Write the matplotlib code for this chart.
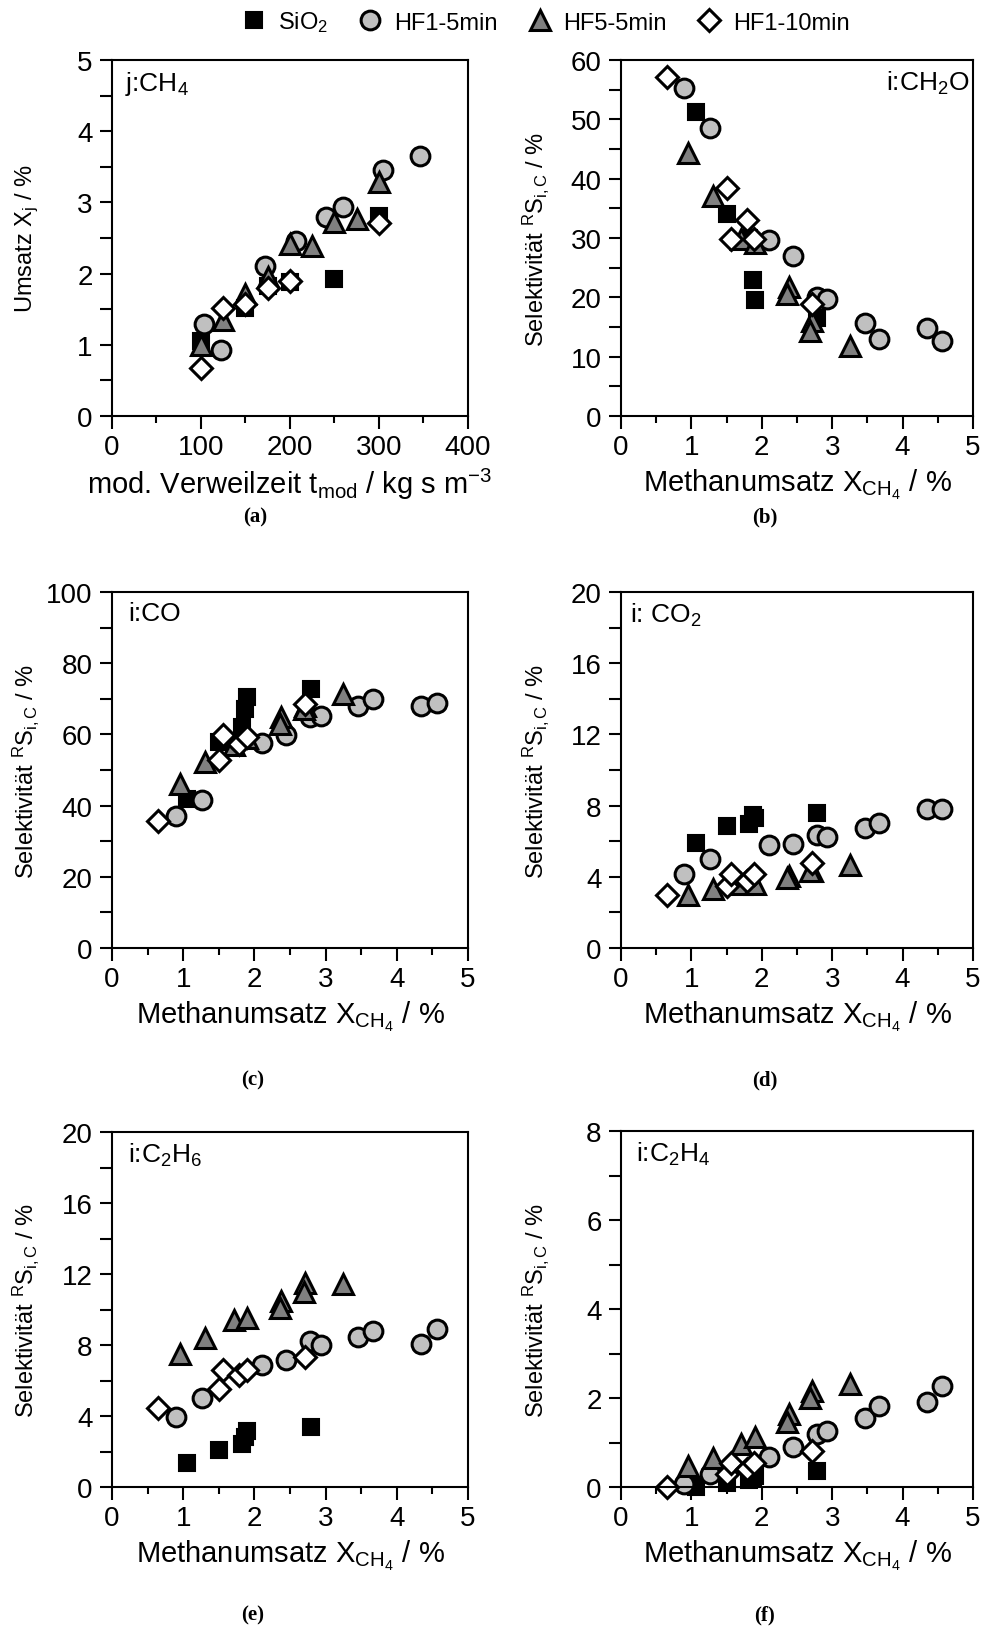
import numpy as np
import matplotlib
matplotlib.use("Agg")
import matplotlib.pyplot as plt
from matplotlib.ticker import MultipleLocator

plt.rcParams['font.family'] = ['Liberation Sans', 'DejaVu Sans']
plt.rcParams['mathtext.fontset'] = 'custom'
plt.rcParams['mathtext.rm'] = 'Liberation Sans'
plt.rcParams['mathtext.it'] = 'Liberation Sans'
plt.rcParams['font.size'] = 17

# series names
series = ['SiO$_2$', 'HF1-5min', 'HF5-5min', 'HF1-10min']

# panel (a): modified residence time vs. methane conversion
tau_sio2 = [100, 150, 175, 200, 250, 300]
conv_sio2 = [1.06, 1.52, 1.82, 1.88, 1.92, 2.81]
tau_hf15 = [103, 123, 172, 207, 241, 259, 305, 346]
conv_hf15 = [1.29, 0.92, 2.11, 2.46, 2.79, 2.93, 3.46, 3.65]
tau_hf55 = [100, 125, 150, 175, 200, 225, 250, 275, 300]
conv_hf55 = [1.0, 1.35, 1.72, 1.95, 2.41, 2.39, 2.73, 2.76, 3.28]
tau_hf110 = [100, 125, 150, 175, 200, 300]
conv_hf110 = [0.68, 1.52, 1.57, 1.80, 1.90, 2.71]

# methane conversion used for the selectivity panels
x_sio2 = [1.06, 1.50, 1.82, 1.87, 1.90, 2.79]
x_hf15 = [0.90, 1.27, 2.10, 2.44, 2.78, 2.93, 3.46, 3.66, 4.34, 4.56]
x_hf55 = [0.95, 1.31, 1.71, 1.90, 2.38, 2.36, 2.71, 2.69, 3.25]
x_hf110 = [0.65, 1.50, 1.56, 1.79, 1.89, 2.71]

# selectivities CH2O
ch2o_sio2 = [51.3, 34.0, 30.0, 22.9, 19.5, 16.5]
ch2o_hf15 = [55.2, 48.6, 29.6, 26.9, 20.0, 19.8, 15.7, 13.0, 14.8, 12.7]
ch2o_hf55 = [44.4, 37.1, 29.8, 29.2, 21.7, 20.5, 16.0, 14.3, 11.8]
ch2o_hf110 = [57.2, 38.4, 29.8, 33.0, 29.9, 18.8]

# selectivities CO
co_sio2 = [41.9, 57.8, 62.0, 67.2, 70.5, 72.8]
co_hf15 = [37.2, 41.6, 57.6, 59.7, 64.9, 65.3, 67.9, 70.0, 67.9, 68.8]
co_hf55 = [46.1, 52.2, 57.0, 59.0, 64.9, 63.0, 68.0, 67.0, 71.4]
co_hf110 = [35.8, 52.7, 59.7, 57.2, 59.2, 68.6]

# selectivities CO2
co2_sio2 = [5.92, 6.85, 6.95, 7.45, 7.3, 7.6]
co2_hf15 = [4.13, 4.98, 5.78, 5.82, 6.35, 6.23, 6.76, 7.04, 7.79, 7.79]
co2_hf55 = [3.0, 3.3, 3.6, 3.6, 4.05, 3.95, 4.3, 4.35, 4.65]
co2_hf110 = [3.0, 3.47, 4.13, 3.76, 4.13, 4.75]

# selectivities C2H6
c2h6_sio2 = [1.37, 2.07, 2.44, 2.82, 3.14, 3.38]
c2h6_hf15 = [3.94, 5.01, 6.85, 7.14, 8.21, 8.02, 8.45, 8.77, 8.08, 8.88]
c2h6_hf55 = [7.5, 8.4, 9.4, 9.5, 10.5, 10.1, 11.5, 11.0, 11.45]
c2h6_hf110 = [4.45, 5.5, 6.57, 6.29, 6.57, 7.32]

# selectivities C2H4
c2h4_sio2 = [0.0, 0.1, 0.15, 0.2, 0.25, 0.35]
c2h4_hf15 = [0.06, 0.29, 0.68, 0.89, 1.2, 1.26, 1.55, 1.81, 1.92, 2.27]
c2h4_hf55 = [0.47, 0.66, 0.96, 1.13, 1.64, 1.45, 2.16, 2.01, 2.31]
c2h4_hf110 = [0.0, 0.3, 0.55, 0.4, 0.55, 0.81]

styles = [
    dict(marker='s', ms=12, mfc='black', mec='black', mew=1.5),
    dict(marker='o', ms=13.5, mfc='#c0c0c0', mec='black', mew=2.2),
    dict(marker='^', ms=14.5, mfc='#808080', mec='black', mew=2.2),
    dict(marker='D', ms=11.5, mfc='white', mec='black', mew=2.2),
]

fig = plt.figure(figsize=(9.87, 16.33), dpi=100)
W, H = 987.0, 1633.0
TICK_FS = 20
XLAB_FS = 21
YLAB_FS = 17
TAG_FS = 19


def make_ax(left, top, right, bottom):
    return fig.add_axes([left / W, 1 - bottom / H, (right - left) / W, (bottom - top) / H])


def style_ax(ax, xlim, xmaj, xmin, ylim, ymaj, ymin):
    ax.set_xlim(*xlim)
    ax.set_ylim(*ylim)
    ax.xaxis.set_major_locator(MultipleLocator(xmaj))
    ax.xaxis.set_minor_locator(MultipleLocator(xmin))
    ax.yaxis.set_major_locator(MultipleLocator(ymaj))
    ax.yaxis.set_minor_locator(MultipleLocator(ymin))
    ax.tick_params(axis='x', which='major', direction='out', length=9, width=1.5, pad=4,
                   labelsize=TICK_FS)
    ax.tick_params(axis='x', which='minor', direction='out', length=5, width=1.5)
    ax.tick_params(axis='y', which='both', direction='out', length=9, width=1.5, pad=5,
                   labelsize=TICK_FS)
    for sp in ax.spines.values():
        sp.set_linewidth(1.5)


def draw(ax, xs, ys):
    for x, y, st, name in zip(xs, ys, styles, series):
        ax.plot(x, y, linestyle='none', label=name, clip_on=False, **st)


sel_label = r'Selektivität $^{\mathrm{R}}\mathrm{S}_{\mathrm{i,C}}$ / %'
conv_label = r'Methanumsatz X$_{\mathrm{CH_4}}$ / %'
xs_sel = [x_sio2, x_hf15, x_hf55, x_hf110]

# (a)
ax_a = make_ax(112, 61, 468, 417)
draw(ax_a, [tau_sio2, tau_hf15, tau_hf55, tau_hf110], [conv_sio2, conv_hf15, conv_hf55, conv_hf110])
style_ax(ax_a, (0, 400), 100, 50, (0, 5), 1, 0.5)
ax_a.set_ylabel(r'Umsatz X$_{\mathrm{j}}$ / %', fontsize=YLAB_FS)
ax_a.set_xlabel(r'mod. Verweilzeit t$_{\mathrm{mod}}$ / kg s m$^{-3}$', fontsize=XLAB_FS)
ax_a.text(0.037, 0.975, r'j:CH$_4$', transform=ax_a.transAxes, va='top', ha='left', fontsize=TAG_FS)

# (b)
ax_b = make_ax(621, 61, 973, 417)
draw(ax_b, xs_sel, [ch2o_sio2, ch2o_hf15, ch2o_hf55, ch2o_hf110])
style_ax(ax_b, (0, 5), 1, 0.5, (0, 60), 10, 5)
ax_b.set_ylabel(sel_label, fontsize=YLAB_FS)
ax_b.set_xlabel(conv_label, fontsize=XLAB_FS)
ax_b.text(0.99, 0.975, r'i:CH$_2$O', transform=ax_b.transAxes, va='top', ha='right', fontsize=TAG_FS)

# (c)
ax_c = make_ax(112, 593, 468, 949)
draw(ax_c, xs_sel, [co_sio2, co_hf15, co_hf55, co_hf110])
style_ax(ax_c, (0, 5), 1, 0.5, (0, 100), 20, 10)
ax_c.set_ylabel(sel_label, fontsize=YLAB_FS)
ax_c.set_xlabel(conv_label, fontsize=XLAB_FS)
ax_c.text(0.045, 0.975, 'i:CO', transform=ax_c.transAxes, va='top', ha='left', fontsize=TAG_FS)

# (d)
ax_d = make_ax(621, 593, 973, 949)
draw(ax_d, xs_sel, [co2_sio2, co2_hf15, co2_hf55, co2_hf110])
style_ax(ax_d, (0, 5), 1, 0.5, (0, 20), 4, 2)
ax_d.set_ylabel(sel_label, fontsize=YLAB_FS)
ax_d.set_xlabel(conv_label, fontsize=XLAB_FS)
ax_d.text(0.025, 0.975, r'i: CO$_2$', transform=ax_d.transAxes, va='top', ha='left', fontsize=TAG_FS)

# (e)
ax_e = make_ax(112, 1133, 468, 1488)
draw(ax_e, xs_sel, [c2h6_sio2, c2h6_hf15, c2h6_hf55, c2h6_hf110])
style_ax(ax_e, (0, 5), 1, 0.5, (0, 20), 4, 2)
ax_e.set_ylabel(sel_label, fontsize=YLAB_FS)
ax_e.set_xlabel(conv_label, fontsize=XLAB_FS)
ax_e.text(0.045, 0.975, r'i:C$_2$H$_6$', transform=ax_e.transAxes, va='top', ha='left', fontsize=TAG_FS)

# (f)
ax_f = make_ax(621, 1132, 973, 1488)
draw(ax_f, xs_sel, [c2h4_sio2, c2h4_hf15, c2h4_hf55, c2h4_hf110])
style_ax(ax_f, (0, 5), 1, 0.5, (0, 8), 2, 1)
ax_f.set_ylabel(sel_label, fontsize=YLAB_FS)
ax_f.set_xlabel(conv_label, fontsize=XLAB_FS)
ax_f.text(0.043, 0.975, r'i:C$_2$H$_4$', transform=ax_f.transAxes, va='top', ha='left', fontsize=TAG_FS)

for ax in [ax_a, ax_b, ax_c, ax_d, ax_e, ax_f]:
    ax.yaxis.set_label_coords(-0.20, 0.5)
    ax.xaxis.set_label_coords(0.5, -0.19)
    ax.xaxis.label.set_va('center')

# sub-figure letters
for lab, x, y in [('(a)', 255, 517), ('(b)', 765, 517), ('(c)', 253, 1080),
                  ('(d)', 765, 1080), ('(e)', 253, 1615), ('(f)', 765, 1615)]:
    fig.text(x / W, 1 - y / H, lab, ha='center', va='center', fontsize=15,
             fontweight='bold', family='Liberation Serif')

handles, labels = ax_a.get_legend_handles_labels()
fig.legend(handles, labels, loc='center', bbox_to_anchor=(0.552, 1 - 23 / H), ncol=4,
           frameon=False, fontsize=17, handletextpad=0.4, columnspacing=1.2,
           handlelength=1.2)

fig.savefig('out.png', dpi=100)
